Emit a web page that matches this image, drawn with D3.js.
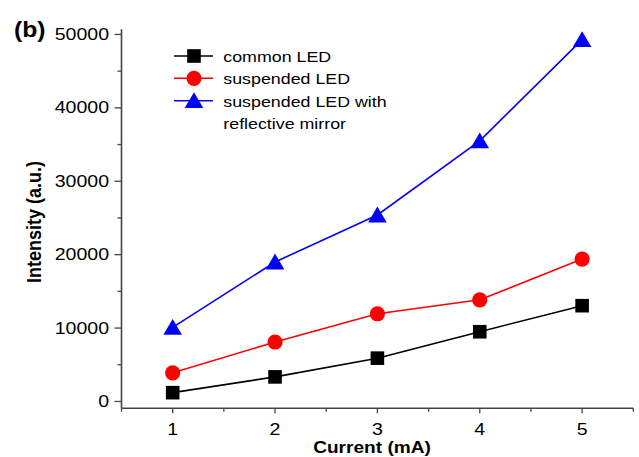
<!DOCTYPE html>
<html><head><meta charset="utf-8">
<script src="https://cdn.jsdelivr.net/npm/d3@7"></script>
<style>body{margin:0;background:#fff}svg{display:block}</style>
</head><body>
<svg id="c" width="639" height="457"></svg>
<script>
const currents = [1, 2, 3, 4, 5];
const commonLED = [1200, 3350, 5900, 9500, 13050];
const suspendedLED = [3900, 8100, 11950, 13850, 19400];
const mirrorLED = [10100, 19000, 25400, 35500, 49300];
const yTicks = [0, 10000, 20000, 30000, 40000, 50000];
const yMinor = [5000, 15000, 25000, 35000, 45000];
const xTicks = [1, 2, 3, 4, 5];
const xMinor = [0.5, 1.5, 2.5, 3.5, 4.5, 5.5];
const seriesNames = ["common LED", "suspended LED", "suspended LED with", "reflective mirror"];

const svg = d3.select("#c");
const SX = 1.15;
const FONT = "'Liberation Sans', Arial, sans-serif";
const x = d3.scaleLinear().domain([0.5, 5.5]).range([121.5, 633.3]);
const y = d3.scaleLinear().domain([-930, 50700]).range([408.3, 29.3]);

function txt(g, tx, ty, s, size, weight, anchor, rot) {
  return g.append("text")
    .attr("transform", `translate(${tx},${ty}) scale(${SX},1)` + (rot ? ` rotate(${rot})` : ""))
    .attr("font-family", FONT).attr("font-size", size).attr("font-weight", weight || "normal")
    .attr("text-anchor", anchor || "start").attr("fill", "#000").text(s);
}

const axisColor = "#444";
svg.append("line").attr("x1", x(0.5)).attr("x2", x(5.5)).attr("y1", y(-930)).attr("y2", y(-930))
  .attr("stroke", axisColor).attr("stroke-width", 1.6);
svg.append("line").attr("x1", x(0.5)).attr("x2", x(0.5)).attr("y1", y(-930)).attr("y2", y(50700))
  .attr("stroke", axisColor).attr("stroke-width", 1.6);

const y0 = y(-930);
xTicks.forEach(v => svg.append("line").attr("x1", x(v)).attr("x2", x(v)).attr("y1", y0).attr("y2", y0 + 5).attr("stroke", axisColor).attr("stroke-width", 1.3));
xMinor.forEach(v => svg.append("line").attr("x1", x(v)).attr("x2", x(v)).attr("y1", y0).attr("y2", y0 + 3.5).attr("stroke", axisColor).attr("stroke-width", 1.3));
xTicks.forEach(v => txt(svg, x(v), 434.5, d3.format("d")(v), 17, "normal", "middle"));

const x0 = x(0.5);
yTicks.forEach(v => svg.append("line").attr("x1", x0 - 7).attr("x2", x0).attr("y1", y(v)).attr("y2", y(v)).attr("stroke", axisColor).attr("stroke-width", 1.3));
yMinor.forEach(v => svg.append("line").attr("x1", x0 - 4).attr("x2", x0).attr("y1", y(v)).attr("y2", y(v)).attr("stroke", axisColor).attr("stroke-width", 1.3));
yTicks.forEach(v => txt(svg, 109, y(v) + 5.5, String(v), 17, "normal", "end"));

txt(svg, 372, 453.3, "Current (mA)", 16.6, "bold", "middle");
txt(svg, 40.5, 222, "Intensity (a.u.)", 18, "bold", "middle", -90);
txt(svg, 14, 36.5, "(b)", 21.5, "bold", "start");

const series = [
  {vals: commonLED, color: "#000", shape: "square"},
  {vals: suspendedLED, color: "#ff0000", shape: "circle"},
  {vals: mirrorLED, color: "#0000ff", shape: "triangle"}
];
function marker(g, shape, cx, cy, color) {
  if (shape === "square") {
    g.append("rect").attr("x", cx - 6.8).attr("y", cy - 6.8).attr("width", 13.6).attr("height", 13.6).attr("fill", color);
  } else if (shape === "circle") {
    g.append("circle").attr("cx", cx).attr("cy", cy).attr("r", 7.6).attr("fill", color);
  } else {
    const w = 9.3, h = 15.8;
    g.append("path").attr("d", `M${cx},${cy - h / 2 - 0.5}L${cx + w},${cy + h / 2 - 0.5}L${cx - w},${cy + h / 2 - 0.5}Z`).attr("fill", color);
  }
}
const line = d3.line().x((d, i) => x(currents[i])).y(d => y(d));
series.forEach(s => {
  svg.append("path").attr("d", line(s.vals)).attr("fill", "none").attr("stroke", s.color).attr("stroke-width", 1.6);
});
series.forEach(s => {
  s.vals.forEach((v, i) => marker(svg, s.shape, x(currents[i]), y(v), s.color));
});

const rows = [56, 78.3, 100.7];
series.forEach((s, i) => {
  svg.append("line").attr("x1", 174).attr("x2", 213).attr("y1", rows[i]).attr("y2", rows[i]).attr("stroke", s.color).attr("stroke-width", 1.6);
  marker(svg, s.shape, 194, rows[i], s.color);
});
txt(svg, 223.3, 61.7, seriesNames[0], 15.5);
txt(svg, 223.3, 84, seriesNames[1], 15.5);
txt(svg, 223.3, 106.5, seriesNames[2], 15.5);
txt(svg, 223.3, 129.2, seriesNames[3], 15.5);
</script>
</body></html>
